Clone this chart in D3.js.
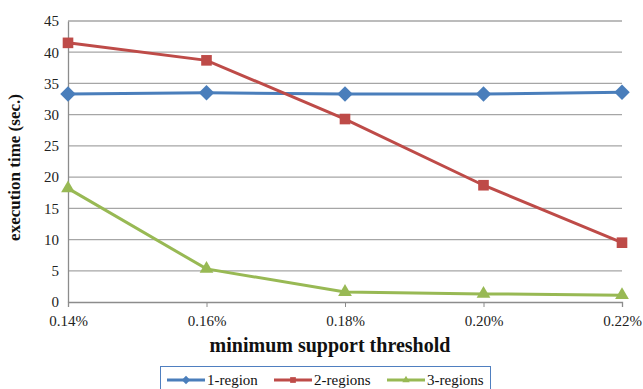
<!DOCTYPE html>
<html>
<head>
<meta charset="utf-8">
<script src="https://cdn.jsdelivr.net/npm/d3@7"></script>
<style>
  body { margin: 0; background: #fff; }
  svg { display: block; }
</style>
</head>
<body>
<svg id="chart" width="643" height="389"></svg>
<script>
// Execution time against minimum support threshold
const categories = ["0.14%", "0.16%", "0.18%", "0.20%", "0.22%"];
const oneRegion = [33.3, 33.5, 33.3, 33.3, 33.6];
const twoRegions = [41.5, 38.7, 29.3, 18.7, 9.5];
const threeRegions = [18.2, 5.3, 1.6, 1.3, 1.1];
const yTicks = [0, 5, 10, 15, 20, 25, 30, 35, 40, 45];
const seriesNames = ["1-region", "2-regions", "3-regions"];

const series = [
  { name: seriesNames[0], values: oneRegion, color: "#4a7ebb", marker: "diamond" },
  { name: seriesNames[1], values: twoRegions, color: "#be4b48", marker: "square" },
  { name: seriesNames[2], values: threeRegions, color: "#98b954", marker: "triangle" }
];

const FONT = "'Liberation Serif', 'DejaVu Serif', serif";
const svg = d3.select("#chart");
const plotLeft = 68, plotRight = 622, plotTop = 21, plotBottom = 302;

const x = d3.scalePoint().domain(categories).range([plotLeft, plotRight]);
const y = d3.scaleLinear().domain([0, 45]).range([plotBottom, plotTop]);

// horizontal gridlines
svg.append("g").selectAll("line").data(yTicks.filter(d => d > 0)).join("line")
  .attr("x1", plotLeft).attr("x2", plotRight)
  .attr("y1", d => y(d)).attr("y2", d => y(d))
  .attr("stroke", "#a6a6a6").attr("stroke-width", 1.3);

// y axis
const yAxis = svg.append("g").attr("transform", `translate(${plotLeft},0)`)
  .call(d3.axisLeft(y).tickValues(yTicks).tickSize(0).tickPadding(9))
  .attr("font-family", FONT).attr("font-size", 15);
yAxis.select(".domain").attr("stroke", "#8c8c8c").attr("stroke-width", 1.3);
yAxis.selectAll("text").attr("fill", "#222");

// x axis
const xAxis = svg.append("g").attr("transform", `translate(0,${plotBottom})`)
  .call(d3.axisBottom(x).tickSize(5).tickPadding(8))
  .attr("font-family", FONT).attr("font-size", 15);
xAxis.select(".domain").attr("stroke", "#8c8c8c").attr("stroke-width", 1.3);
xAxis.selectAll(".tick line").attr("stroke", "#8c8c8c");
xAxis.selectAll("text").attr("fill", "#222");

// axis titles
svg.append("text")
  .attr("transform", `translate(20,${(plotTop + plotBottom) / 2 + 6}) rotate(-90)`)
  .attr("text-anchor", "middle").attr("font-family", FONT)
  .attr("font-size", 17).attr("font-weight", "bold").attr("fill", "#111")
  .text("execution time (sec.)");

svg.append("text")
  .attr("x", 330).attr("y", 352)
  .attr("text-anchor", "middle").attr("font-family", FONT)
  .attr("font-size", 20).attr("font-weight", "bold").attr("fill", "#111")
  .text("minimum support threshold");

// marker shapes
function markerPath(type, size) {
  if (type === "diamond") return d3.symbol(d3.symbolDiamond2, size * size * 0.9)();
  if (type === "square") return d3.symbol(d3.symbolSquare2, size * size * 0.85)();
  return d3.symbol(d3.symbolTriangle2, size * size * 0.8)();
}

const line = d3.line().x((d, i) => x(categories[i])).y(d => y(d));

series.forEach(s => {
  const g = svg.append("g");
  g.append("path").datum(s.values)
    .attr("d", line)
    .attr("fill", "none").attr("stroke", s.color).attr("stroke-width", 3);
  g.selectAll("path.m").data(s.values).join("path")
    .attr("class", "m")
    .attr("transform", (d, i) => `translate(${x(categories[i])},${y(d)})`)
    .attr("d", markerPath(s.marker, 13))
    .attr("fill", s.color);
});

// legend
const lg = svg.append("g").attr("font-family", FONT);
lg.append("rect").attr("x", 160.5).attr("y", 366.5).attr("width", 330).attr("height", 28)
  .attr("fill", "#fff").attr("stroke", "#4f7fc0").attr("stroke-width", 1);
const legendX = [167, 274, 387];
series.forEach((s, i) => {
  const lx = legendX[i], ly = 380;
  lg.append("line").attr("x1", lx).attr("x2", lx + 38).attr("y1", ly).attr("y2", ly)
    .attr("stroke", s.color).attr("stroke-width", 3);
  lg.append("path").attr("transform", `translate(${lx + 19},${ly})`)
    .attr("d", markerPath(s.marker, 7)).attr("fill", s.color);
  lg.append("text").attr("x", lx + 40).attr("y", ly + 5)
    .attr("font-size", 15).attr("fill", "#111").text(s.name);
});
</script>
</body>
</html>
